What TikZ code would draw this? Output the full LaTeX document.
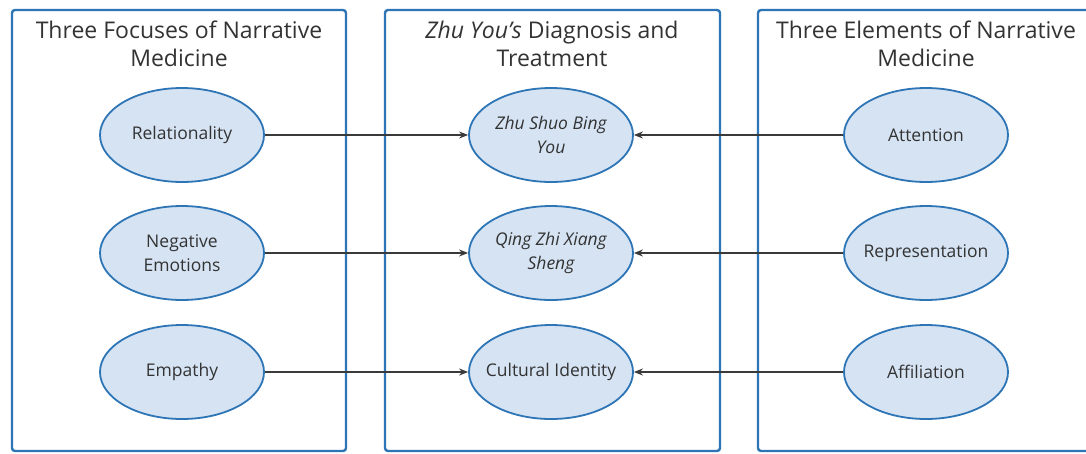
\documentclass[tikz,border=0pt]{standalone}
\usepackage{fontspec}
\setmainfont{Open Sans}
\usetikzlibrary{arrows.meta,shapes.geometric}
\definecolor{boxblue}{HTML}{2E75B6}
\definecolor{ellfill}{HTML}{D5E3F3}
\definecolor{txt}{HTML}{333333}
\definecolor{arr}{HTML}{3A3A3A}
\tikzset{
  panel/.style={draw=boxblue, line width=2.4pt, rounded corners=3pt},
  ell/.style={ellipse, draw=boxblue, line width=1.8pt, fill=ellfill, minimum width=164pt, minimum height=94pt, inner xsep=-30pt, inner ysep=0pt, align=center, text=txt, font=\fontsize{17.5}{24}\selectfont},
  ttl/.style={align=center, text=txt, font=\fontsize{23}{28.5}\selectfont},
  conn/.style={draw=arr, line width=1.3pt, -{Stealth[length=9pt,width=7pt]}}
}
\begin{document}
\begin{tikzpicture}[x=1pt,y=-1pt]
\useasboundingbox (0,0) rectangle (1086,453);
\clip (0,0) rectangle (1086,453);
\fill[white] (0,0) rectangle (1086,453);
\draw[panel] (12,10) rectangle (346,451);
\draw[panel] (385,10) rectangle (720,451);
\draw[panel] (758,10) rectangle (1100,451);
\node[ttl] (t1) at (179,44) {Three Focuses of Narrative\\Medicine};
\node[ttl] (t2) at (552,44) {\textit{Zhu You's} Diagnosis and\\Treatment};
\node[ttl] (t3) at (926,44) {Three Elements of Narrative\\Medicine};
\node[ell] (l1) at (182,135) {Relationality};
\node[ell] (l2) at (182,253) {Negative\\Emotions};
\node[ell] (l3) at (182,372) {Empathy};
\node[ell] (m1) at (551,135) {\itshape Zhu Shuo Bing\\\itshape You};
\node[ell] (m2) at (551,253) {\itshape Qing Zhi Xiang\\\itshape Sheng};
\node[ell] (m3) at (551,372) {Cultural Identity};
\node[ell] (r1) at (926,135) {Attention};
\node[ell] (r2) at (926,253) {Representation};
\node[ell] (r3) at (926,372) {Affiliation};
\draw[conn] (l1) -- (m1);
\draw[conn] (l2) -- (m2);
\draw[conn] (l3) -- (m3);
\draw[conn] (r1) -- (m1);
\draw[conn] (r2) -- (m2);
\draw[conn] (r3) -- (m3);
\end{tikzpicture}
\end{document}
